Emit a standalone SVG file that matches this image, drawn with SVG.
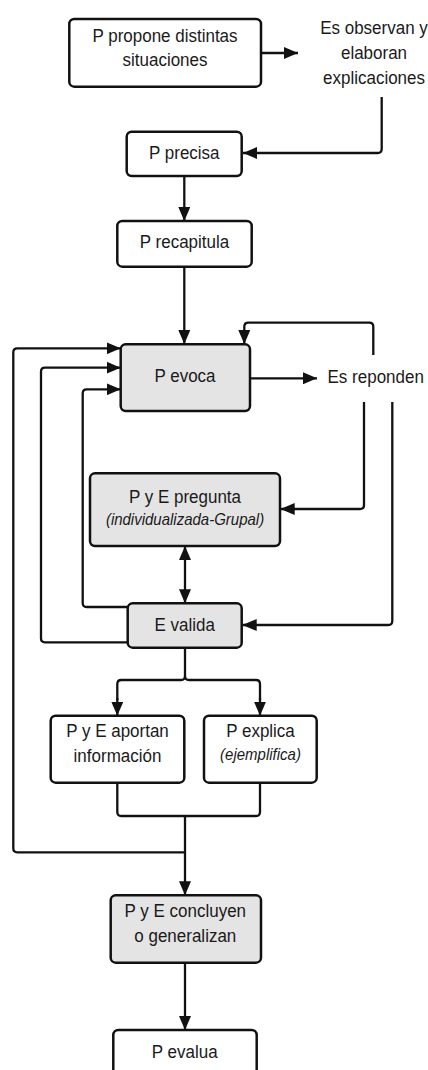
<svg xmlns="http://www.w3.org/2000/svg" width="428" height="1070" viewBox="0 0 428 1070">
<defs>
<marker id="ah" viewBox="0 0 14 12" refX="14" refY="6" markerWidth="14" markerHeight="12" markerUnits="userSpaceOnUse" orient="auto-start-reverse">
<path d="M0,0 L14,6 L0,12 Z" fill="#111"/>
</marker>
<style>
.b{fill:#fff;stroke:#111;stroke-width:2.5}
.g{fill:#e4e4e4;stroke:#111;stroke-width:2.5}
.t{font-family:"Liberation Sans",Arial,sans-serif;font-size:17px;fill:#1a1a1a;text-anchor:middle}
.i{font-family:"Liberation Sans",Arial,sans-serif;font-size:15px;font-style:italic;fill:#1a1a1a;text-anchor:middle}
.c{fill:none;stroke:#111;stroke-width:2.3}
.a{marker-end:url(#ah)}
</style>
</defs>
<rect width="428" height="1070" fill="#fff"/>
<g id="connectors">
<path class="c a" d="M261,53 H298"/>
<path class="c a" d="M381.7,97 V149 Q381.7,153 377.7,153 H243"/>
<path class="c a" d="M184.3,176 V221"/>
<path class="c a" d="M184.3,267 V344"/>
<path class="c a" d="M250,378.3 H317"/>
<path class="c a" d="M373.3,355 V326.7 Q373.3,322.7 369.3,322.7 H248.3 Q244.3,322.7 244.3,326.7 V344"/>
<path class="c a" d="M364,402 V505 Q364,509 360,509 H280.7"/>
<path class="c a" d="M392.3,402 V621 Q392.3,625 388.3,625 H242.7"/>
<path class="c a" d="M185,546 V603.3" marker-start="url(#ah)"/>
<path class="c a" d="M127.7,607 H86.7 Q82.7,607 82.7,603 V393.3 Q82.7,389.3 86.7,389.3 H120.7"/>
<path class="c a" d="M127.7,642.3 H45 Q41,642.3 41,638.3 V371.7 Q41,367.7 45,367.7 H120.7"/>
<path class="c" d="M185,648 V676 Q185,680 181,680 H121.3 Q117.3,680 117.3,684 V700"/>
<path class="c a" d="M117.3,698 V715.7"/>
<path class="c" d="M185,676 Q185,680 189,680 H256 Q260,680 260,684 V700"/>
<path class="c a" d="M260,698 V715.7"/>
<path class="c" d="M117.3,782.7 V812 Q117.3,816 121.3,816 H256 Q260,816 260,812 V782.7"/>
<path class="c a" d="M185,816 V895.3"/>
<path class="c a" d="M185,852.3 H17.3 Q13.3,852.3 13.3,848.3 V352.3 Q13.3,348.3 17.3,348.3 H120.7"/>
<path class="c a" d="M185,963 V1030"/>
</g>
<g id="n1"><rect class="b" x="69.3" y="19" width="191.7" height="67.7" rx="5"/><text class="t" transform="translate(165,41.5) scale(1,1.09)">P propone distintas</text><text class="t" transform="translate(165,66) scale(1,1.09)">situaciones</text></g>
<g id="n2"><text class="t" transform="translate(374,33.5) scale(1,1.09)">Es observan y</text><text class="t" transform="translate(374,58.5) scale(1,1.09)">elaboran</text><text class="t" transform="translate(374,83.5) scale(1,1.09)">explicaciones</text></g>
<g id="n3"><rect class="b" x="126.7" y="131.7" width="115" height="44.3" rx="5"/><text class="t" transform="translate(184.3,159.3) scale(1,1.09)">P precisa</text></g>
<g id="n4"><rect class="b" x="117.3" y="221" width="134.4" height="45.7" rx="5"/><text class="t" transform="translate(184.5,248.3) scale(1,1.09)">P recapitula</text></g>
<g id="n5"><rect class="g" x="120.7" y="344.3" width="129.3" height="66.7" rx="5"/><text class="t" transform="translate(185,381.7) scale(1,1.09)">P evoca</text></g>
<g id="n6"><text class="t" transform="translate(375.7,383.3) scale(1,1.09)">Es reponden</text></g>
<g id="n7"><rect class="g" x="90" y="473.3" width="190" height="72.7" rx="5"/><text class="t" transform="translate(185,503.3) scale(1,1.09)">P y E pregunta</text><text class="i" transform="translate(185,525) scale(1,1.09)">(individualizada-Grupal)</text></g>
<g id="n8"><rect class="g" x="127.7" y="603.3" width="114" height="44.4" rx="5"/><text class="t" transform="translate(184.7,630.7) scale(1,1.09)">E valida</text></g>
<g id="n9"><rect class="b" x="50.7" y="715.7" width="133.6" height="67" rx="5"/><text class="t" transform="translate(117.5,737.3) scale(1,1.09)">P y E aportan</text><text class="t" transform="translate(117.5,761.7) scale(1,1.09)">información</text></g>
<g id="n10"><rect class="b" x="204" y="715.7" width="112.7" height="67" rx="5"/><text class="t" transform="translate(260.5,737.3) scale(1,1.09)">P explica</text><text class="i" transform="translate(260.5,760) scale(1,1.09)">(ejemplifica)</text></g>
<g id="n11"><rect class="g" x="110.7" y="895.3" width="150.3" height="67.4" rx="5"/><text class="t" transform="translate(185.3,917.3) scale(1,1.09)">P y E concluyen</text><text class="t" transform="translate(185.3,941.7) scale(1,1.09)">o generalizan</text></g>
<g id="n12"><rect class="b" x="113.3" y="1030" width="143.4" height="46" rx="5"/><text class="t" transform="translate(184.7,1057.7) scale(1,1.09)">P evalua</text></g>
</svg>
